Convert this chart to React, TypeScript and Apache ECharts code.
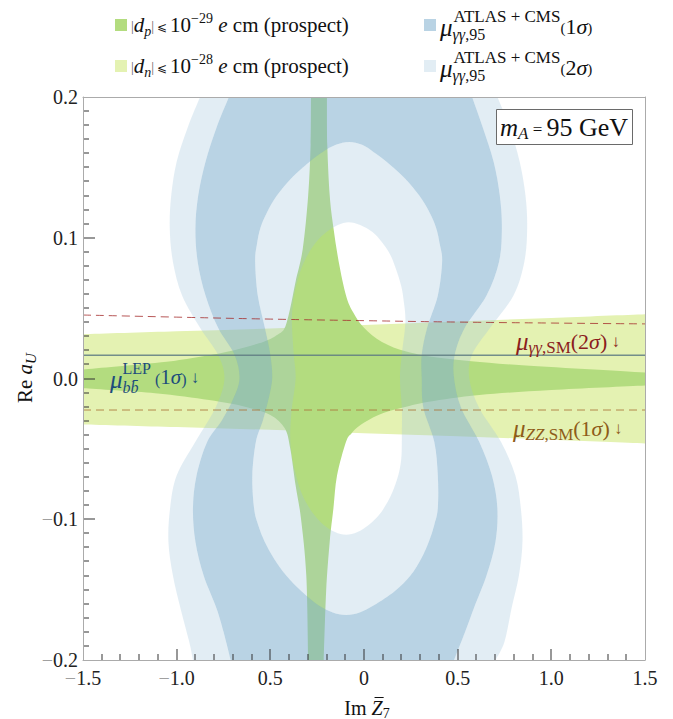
import { useEffect, useRef } from 'react';
import * as echarts from 'echarts';

// ---------- axes ----------
const X_RANGE = [-1.5, 1.5];
const Y_RANGE = [-0.2, 0.2];
const X_TICK_VALUES = [-1.5, -1.0, -0.5, 0, 0.5, 1.0, 1.5];
const X_TICK_LABELS = ['−1.5', '−1.0', '0.5', '0', '0.5', '1.0', '1.5'];
const Y_TICK_VALUES = [-0.2, -0.1, 0, 0.1, 0.2];
const Y_TICK_LABELS = ['−0.2', '−0.1', '0.0', '0.1', '0.2'];
const X_MINOR_STEP = 0.1;
const Y_MINOR_STEP = 0.01;

// ---------- mu_gammagamma (ATLAS+CMS) 2 sigma outer boundary ----------
const OUTER_2S_LEFT = [
  [-0.875, 0.2], [-0.942, 0.178], [-1.0, 0.154], [-1.029, 0.13], [-1.037, 0.107], [-1.02, 0.083],
  [-0.971, 0.059], [-0.875, 0.036], [-0.78, 0.017], [-0.745, 0.0], [-0.79, -0.02], [-0.9, -0.045],
  [-1.0, -0.069], [-1.035, -0.092], [-1.044, -0.116], [-1.02, -0.14], [-0.98, -0.163], [-0.933, -0.187], [-0.913, -0.2],
];
const OUTER_2S_RIGHT = [
  [0.702, -0.2], [0.75, -0.187], [0.788, -0.163], [0.827, -0.14], [0.846, -0.116], [0.837, -0.092],
  [0.808, -0.069], [0.731, -0.045], [0.615, -0.021], [0.562, 0.0], [0.577, 0.017], [0.673, 0.036],
  [0.798, 0.059], [0.856, 0.083], [0.871, 0.107], [0.862, 0.13], [0.831, 0.154], [0.779, 0.178], [0.712, 0.2],
];
// ---------- 1 sigma outer boundary ----------
const OUTER_1S_LEFT = [
  [-0.721, 0.2], [-0.788, 0.178], [-0.846, 0.154], [-0.885, 0.13], [-0.9, 0.107], [-0.888, 0.083],
  [-0.846, 0.059], [-0.779, 0.036], [-0.692, 0.017], [-0.665, 0.0], [-0.7, -0.015], [-0.76, -0.03],
  [-0.837, -0.045], [-0.894, -0.069], [-0.913, -0.092], [-0.9, -0.116], [-0.856, -0.14], [-0.788, -0.163],
  [-0.75, -0.18], [-0.712, -0.2],
];
const OUTER_1S_RIGHT = [
  [0.481, -0.2], [0.54, -0.18], [0.587, -0.163], [0.654, -0.14], [0.702, -0.116], [0.712, -0.092],
  [0.683, -0.069], [0.615, -0.045], [0.519, -0.021], [0.481, 0.0], [0.485, 0.017], [0.538, 0.036],
  [0.654, 0.059], [0.721, 0.083], [0.736, 0.107], [0.725, 0.13], [0.692, 0.154], [0.635, 0.178], [0.577, 0.2],
];
// ---------- 1 sigma inner boundary (hourglass) ----------
const HOLE_1S = [
  [-0.08, 0.168], [-0.15, 0.166], [-0.22, 0.161], [-0.29, 0.154], [-0.39, 0.142], [-0.465, 0.13],
  [-0.518, 0.118], [-0.553, 0.107], [-0.572, 0.095], [-0.581, 0.083], [-0.567, 0.059], [-0.529, 0.036],
  [-0.5, 0.017], [-0.49, 0.0], [-0.51, -0.015], [-0.54, -0.03], [-0.577, -0.045], [-0.596, -0.069],
  [-0.587, -0.092], [-0.565, -0.104], [-0.53, -0.116], [-0.48, -0.128], [-0.415, -0.14], [-0.335, -0.151],
  [-0.245, -0.161], [-0.17, -0.166], [-0.096, -0.168], [-0.02, -0.166], [0.055, -0.161], [0.165, -0.151],
  [0.248, -0.14], [0.305, -0.128], [0.346, -0.116], [0.375, -0.104], [0.394, -0.092], [0.394, -0.069],
  [0.375, -0.045], [0.317, -0.021], [0.308, 0.0], [0.308, 0.017], [0.337, 0.036], [0.394, 0.059],
  [0.417, 0.083], [0.405, 0.095], [0.385, 0.107], [0.35, 0.118], [0.295, 0.13], [0.22, 0.142],
  [0.12, 0.154], [0.05, 0.161], [-0.01, 0.166],
];
// ---------- 2 sigma inner boundary (hourglass) ----------
const HOLE_2S = [
  [-0.081, 0.111], [-0.14, 0.109], [-0.2, 0.104], [-0.255, 0.097], [-0.3, 0.088], [-0.335, 0.078],
  [-0.362, 0.066], [-0.378, 0.055], [-0.385, 0.04], [-0.375, 0.017], [-0.365, 0.0], [-0.385, -0.021],
  [-0.394, -0.04], [-0.385, -0.055], [-0.368, -0.066], [-0.343, -0.078], [-0.31, -0.088], [-0.265, -0.097],
  [-0.215, -0.104], [-0.155, -0.109], [-0.096, -0.111], [-0.035, -0.109], [0.025, -0.104], [0.08, -0.097],
  [0.125, -0.088], [0.16, -0.078], [0.188, -0.066], [0.2, -0.055], [0.202, -0.04], [0.202, -0.021],
  [0.192, 0.0], [0.202, 0.017], [0.221, 0.04], [0.212, 0.055], [0.198, 0.066], [0.17, 0.078],
  [0.14, 0.088], [0.095, 0.097], [0.045, 0.104], [-0.02, 0.109],
];
// ---------- |d_n| band ----------
const DN_TOP = [[-1.5, 0.0314], [-1.0, 0.0335], [-0.5, 0.0355], [0, 0.038], [0.5, 0.0405], [1.0, 0.043], [1.5, 0.0456]];
const DN_BOTTOM = [[1.5, -0.0461], [1.0, -0.0435], [0.5, -0.041], [0, -0.0389], [-0.5, -0.0365], [-1.0, -0.0345], [-1.5, -0.0326]];
// ---------- |d_p| region ----------
const DP_UPPER_LEFT = [
  [-1.5, 0.0064], [-1.115, 0.011], [-0.923, 0.0144], [-0.731, 0.019], [-0.538, 0.026], [-0.462, 0.031],
  [-0.423, 0.036], [-0.394, 0.05], [-0.365, 0.069], [-0.327, 0.092], [-0.298, 0.13], [-0.285, 0.166], [-0.283, 0.2],
];
const DP_UPPER_RIGHT = [
  [-0.198, 0.2], [-0.196, 0.166], [-0.183, 0.13], [-0.163, 0.107], [-0.135, 0.083], [-0.096, 0.059],
  [-0.058, 0.047], [0.0, 0.036], [0.096, 0.026], [0.231, 0.019], [0.423, 0.0144], [0.808, 0.0097], [1.5, 0.0042],
];
const DP_LOWER_RIGHT = [
  [1.5, -0.005], [1.0, -0.0082], [0.615, -0.0117], [0.346, -0.0165], [0.192, -0.0212], [0.077, -0.0259],
  [-0.019, -0.033], [-0.067, -0.039], [-0.096, -0.045], [-0.144, -0.069], [-0.163, -0.092], [-0.183, -0.116],
  [-0.202, -0.151], [-0.215, -0.2],
];
const DP_LOWER_LEFT = [
  [-0.298, -0.2], [-0.308, -0.14], [-0.337, -0.099], [-0.365, -0.076], [-0.394, -0.0496], [-0.423, -0.0354],
  [-0.5, -0.0259], [-0.635, -0.02], [-0.827, -0.0153], [-1.115, -0.0105], [-1.5, -0.007],
];
// ---------- lines ----------
const GG_LINE = [[-1.5, 0.0451], [-1.0, 0.0436], [-0.5, 0.0422], [0, 0.0411], [0.5, 0.0401], [1.0, 0.0394], [1.5, 0.0388]];
const ZZ_LINE = [[-1.5, -0.0224], [1.5, -0.0224]];
const LEP_LINE = [[-1.5, 0.0165], [1.5, 0.0165]];

// ---------- styling / layout ----------
const FONT = '"Liberation Serif", "Times New Roman", serif';
const GRID = { left: 83, top: 97, width: 562, height: 563 };
const DN_COLOR = '#e4f2b2';
const DP_COLOR = '#b3dc7f';
const S1_FILL = 'rgba(130,176,207,0.56)';
const S2_FILL = 'rgba(158,195,218,0.3)';
const S1_LEGEND = '#b9d3e4';
const S2_LEGEND = '#e2edf4';
const FRAME = '#ababab';
const TICK = '#333333';

let ctx: CanvasRenderingContext2D | null = null;
function measure(text: string, size: number, italic?: boolean) {
  if (!ctx) ctx = document.createElement('canvas').getContext('2d');
  if (!ctx) return text.length * size * 0.5;
  ctx.font = `${italic ? 'italic ' : ''}${size}px ${FONT}`;
  return ctx.measureText(text).width;
}

type Piece = { t: string; s: number; i?: boolean; dy?: number; dx?: number; c?: string; mark?: boolean; back?: boolean };
function run(x0: number, y: number, pieces: Piece[], color: string) {
  const els: any[] = [];
  let x = x0;
  let saved = x0;
  for (const p of pieces) {
    if (p.back) x = saved;
    x += p.dx || 0;
    els.push({
      type: 'text', z: 100, silent: true,
      style: {
        text: p.t, x, y: y + (p.dy || 0), fill: p.c || color,
        font: `${p.i ? 'italic ' : ''}${p.s}px ${FONT}`, align: 'left', verticalAlign: 'middle',
      },
    });
    x += measure(p.t, p.s, p.i);
    if (p.mark) saved = x;
  }
  return { els, end: x };
}
function runWidth(pieces: Piece[]) {
  return run(0, 0, pieces, '#000').end;
}

// ---------- path helpers ----------
const f = (v: number) => v.toFixed(2);
function chainD(pts: number[][], start: string) {
  let d = `${start}${f(pts[0][0])},${f(pts[0][1])}`;
  const n = pts.length;
  for (let i = 0; i < n - 1; i++) {
    const p0 = pts[Math.max(0, i - 1)], p1 = pts[i], p2 = pts[i + 1], p3 = pts[Math.min(n - 1, i + 2)];
    const c1 = [p1[0] + (p2[0] - p0[0]) / 6, p1[1] + (p2[1] - p0[1]) / 6];
    const c2 = [p2[0] - (p3[0] - p1[0]) / 6, p2[1] - (p3[1] - p1[1]) / 6];
    d += `C${f(c1[0])},${f(c1[1])},${f(c2[0])},${f(c2[1])},${f(p2[0])},${f(p2[1])}`;
  }
  return d;
}
function chainsD(chains: number[][][]) {
  return chains.map((c, k) => chainD(c, k === 0 ? 'M' : 'L')).join('') + 'Z';
}
function closedD(pts: number[][]) {
  const n = pts.length;
  const g = (i: number) => pts[(i + n) % n];
  let d = `M${f(pts[0][0])},${f(pts[0][1])}`;
  for (let i = 0; i < n; i++) {
    const p0 = g(i - 1), p1 = g(i), p2 = g(i + 1), p3 = g(i + 2);
    const c1 = [p1[0] + (p2[0] - p0[0]) / 6, p1[1] + (p2[1] - p0[1]) / 6];
    const c2 = [p2[0] - (p3[0] - p1[0]) / 6, p2[1] - (p3[1] - p1[1]) / 6];
    d += `C${f(c1[0])},${f(c1[1])},${f(c2[0])},${f(c2[1])},${f(p2[0])},${f(p2[1])}`;
  }
  return d + 'Z';
}
const px = (api: any, pts: number[][]) => pts.map((p) => api.coord(p));
const revChains = (chains: number[][][]) => chains.slice().reverse().map((c) => c.slice().reverse());

function regionSeries(name: string, data: number[][], build: (api: any) => string, fill: string, z = 2) {
  return {
    type: 'custom', name, coordinateSystem: 'cartesian2d', clip: true, silent: true, z,
    data, encode: { x: 0, y: 1 },
    renderItem: (params: any, api: any) =>
      params.dataIndex === 0 ? { type: 'path', shape: { pathData: build(api) }, style: { fill } } : null,
  };
}

function stepValues(min: number, max: number, step: number) {
  const out: number[] = [];
  const n = Math.round((max - min) / step);
  for (let k = 0; k <= n; k++) out.push(Math.round((min + k * step) * 1e6) / 1e6);
  return out;
}
const isMajor = (v: number, majors: number[]) => majors.some((m) => Math.abs(m - v) < 1e-6);

// tick marks as thin filled bars, placed through the axis scales (same mechanism as the regions)
function tickPath(api: any) {
  let d = '';
  const corner = api.coord([X_RANGE[0], Y_RANGE[0]]);
  const bottom = corner[1];
  const left = corner[0];
  for (const v of stepValues(X_RANGE[0], X_RANGE[1], X_MINOR_STEP)) {
    if (Math.abs(v - X_RANGE[0]) < 1e-6 || Math.abs(v - X_RANGE[1]) < 1e-6) continue;
    const x = Math.round(api.coord([v, Y_RANGE[0]])[0]);
    const len = isMajor(v, X_TICK_VALUES) ? 11 : 6;
    d += `M${f(x - 0.5)},${f(bottom)}L${f(x + 0.5)},${f(bottom)}L${f(x + 0.5)},${f(bottom - len)}L${f(x - 0.5)},${f(bottom - len)}Z`;
  }
  for (const v of stepValues(Y_RANGE[0], Y_RANGE[1], Y_MINOR_STEP)) {
    if (Math.abs(v - Y_RANGE[0]) < 1e-6 || Math.abs(v - Y_RANGE[1]) < 1e-6) continue;
    const y = Math.round(api.coord([X_RANGE[0], v])[1]);
    const len = isMajor(v, Y_TICK_VALUES) ? 12 : 6;
    d += `M${f(left)},${f(y - 0.5)}L${f(left + len)},${f(y - 0.5)}L${f(left + len)},${f(y + 0.5)}L${f(left)},${f(y + 0.5)}Z`;
  }
  return d;
}

function tickFormatter(values: number[], labels: string[]) {
  return (v: number) => {
    const i = values.findIndex((t) => Math.abs(t - v) < 1e-6);
    if (i < 0) return '';
    const s = labels[i];
    return s.startsWith('−') ? `{m|−}{n|${s.slice(1)}}` : `{n|${s}}`;
  };
}
const tickRich = {
  m: { color: '#a0a0a0', fontSize: 20, fontFamily: FONT },
  n: { color: '#222', fontSize: 20, fontFamily: FONT },
};

function buildGraphics() {
  const els: any[] = [];
  // legend
  const rows = [
    { y: 25, sub: 'p', exp: '−29', fill: DP_COLOR, sig: '1', bfill: S1_LEGEND },
    { y: 66, sub: 'n', exp: '−28', fill: DN_COLOR, sig: '2', bfill: S2_LEGEND },
  ];
  for (const r of rows) {
    els.push({ type: 'rect', z: 100, silent: true, shape: { x: 115, y: r.y - 6, width: 12, height: 12 }, style: { fill: r.fill } });
    els.push(...run(131, r.y, [
      { t: '|', s: 14, c: '#666', dy: 1 },
      { t: 'd', s: 21, i: true },
      { t: r.sub, s: 14, i: true, dy: 6 },
      { t: '|', s: 14, c: '#666', dy: 1 },
      { t: ' ⩽ ', s: 12, dy: 2 },
      { t: '10', s: 21 },
      { t: r.exp, s: 14, dy: -7 },
      { t: ' e', s: 21, i: true },
      { t: ' cm (prospect)', s: 21 },
    ], '#111').els);
    els.push({ type: 'rect', z: 100, silent: true, shape: { x: 424, y: r.y - 6, width: 12, height: 12 }, style: { fill: r.bfill } });
    els.push(...run(440, r.y, [
      { t: 'μ', s: 25, i: true, mark: true, dy: 2 },
      { t: 'γγ', s: 16, i: true, dy: 9 },
      { t: ',95', s: 16, dy: 9 },
      { t: 'ATLAS + CMS', s: 17, dy: -9, back: true, dx: 1 },
      { t: '(', s: 15, dy: 3 },
      { t: r.sig, s: 22, dy: 1 },
      { t: 'σ', s: 22, i: true, dy: 1 },
      { t: ')', s: 15, dy: 3 },
    ], '#111').els);
  }
  // m_A box
  els.push({ type: 'rect', z: 100, silent: true, shape: { x: 496.5, y: 109.5, width: 136, height: 35 }, style: { fill: '#fff', stroke: '#6a6a6a', lineWidth: 1 } });
  els.push(...run(500, 127, [
    { t: 'm', s: 25, i: true },
    { t: 'A', s: 17, i: true, dy: 6 },
    { t: ' = ', s: 17, dy: 2 },
    { t: '95 GeV', s: 26 },
  ], '#111').els);
  // curve labels
  els.push(...run(516, 341, [
    { t: 'μ', s: 25, i: true },
    { t: 'γγ', s: 17, i: true, dy: 6 },
    { t: ',SM', s: 17, dy: 6 },
    { t: '(', s: 22 },
    { t: '2', s: 22 },
    { t: 'σ', s: 22, i: true },
    { t: ')', s: 22 },
    { t: ' ↓', s: 17 },
  ], '#8b1d1d').els);
  els.push(...run(513, 428, [
    { t: 'μ', s: 25, i: true },
    { t: 'ZZ', s: 17, i: true, dy: 6 },
    { t: ',SM', s: 17, dy: 6 },
    { t: '(', s: 22 },
    { t: '1', s: 22 },
    { t: 'σ', s: 22, i: true },
    { t: ')', s: 22 },
    { t: ' ↓', s: 17 },
  ], '#8e5c18').els);
  els.push(...run(110, 377, [
    { t: 'μ', s: 25, i: true, mark: true, dy: 2 },
    { t: 'bb\u0304', s: 16, i: true, dy: 10 },
    { t: 'LEP', s: 16, dy: -9, back: true },
    { t: ' (', s: 16, dy: 2 },
    { t: '1', s: 21 },
    { t: 'σ', s: 21, i: true },
    { t: ')', s: 16, dy: 2 },
    { t: ' ↓', s: 17 },
  ], '#1c4c7c').els);
  // y axis title
  const yPieces: Piece[] = [
    { t: 'Re ', s: 21 },
    { t: 'a', s: 21, i: true },
    { t: 'U', s: 15, i: true, dy: 6 },
  ];
  const yw = runWidth(yPieces);
  els.push({ type: 'group', x: 25, y: 378, rotation: Math.PI / 2, children: run(-yw / 2, 0, yPieces, '#111').els });
  // x axis title
  const xPieces: Piece[] = [
    { t: 'Im ', s: 20 },
    { t: 'Z', s: 20, i: true },
    { t: '7', s: 14, dy: 5 },
  ];
  const xw = runWidth(xPieces);
  const x0 = 367 - xw / 2;
  els.push(...run(x0, 708, xPieces, '#111').els);
  const zx = x0 + measure('Im ', 20);
  const zw = measure('Z', 20, true);
  els.push({ type: 'line', z: 100, silent: true, shape: { x1: zx + 3, y1: 697.5, x2: zx + zw + 1, y2: 697.5 }, style: { stroke: '#111', lineWidth: 1 } });
  return els;
}

function buildOption() {
  return {
    animation: false,
    backgroundColor: '#fff',
    grid: { ...GRID, containLabel: false },
    xAxis: [
      {
        type: 'value', position: 'bottom', min: X_RANGE[0], max: X_RANGE[1], interval: 0.5, z: 10,
        splitLine: { show: false },
        axisLine: { show: true, onZero: false, lineStyle: { color: FRAME, width: 1 } },
        axisTick: { show: false },
        axisLabel: { margin: 8, formatter: tickFormatter(X_TICK_VALUES, X_TICK_LABELS), rich: tickRich, showMinLabel: true, showMaxLabel: true, hideOverlap: false },
      },
      {
        type: 'value', position: 'top', min: X_RANGE[0], max: X_RANGE[1], z: 10,
        splitLine: { show: false },
        axisLine: { show: true, onZero: false, lineStyle: { color: FRAME, width: 1 } },
        axisTick: { show: false }, axisLabel: { show: false },
      },
    ],
    yAxis: [
      {
        type: 'value', position: 'left', min: Y_RANGE[0], max: Y_RANGE[1], interval: 0.1, z: 10,
        splitLine: { show: false },
        axisLine: { show: true, onZero: false, lineStyle: { color: FRAME, width: 1 } },
        axisTick: { show: false },
        axisLabel: { margin: 5, formatter: tickFormatter(Y_TICK_VALUES, Y_TICK_LABELS), rich: tickRich, showMinLabel: true, showMaxLabel: true },
      },
      {
        type: 'value', position: 'right', min: Y_RANGE[0], max: Y_RANGE[1], z: 10,
        splitLine: { show: false },
        axisLine: { show: true, onZero: false, lineStyle: { color: FRAME, width: 1 } },
        axisTick: { show: false }, axisLabel: { show: false },
      },
    ],
    series: [
      regionSeries('dn', DN_TOP, (api) => chainsD([px(api, DN_TOP), px(api, DN_BOTTOM)]), DN_COLOR),
      regionSeries('dp', DP_UPPER_LEFT, (api) => chainsD([
        px(api, DP_UPPER_LEFT), px(api, DP_UPPER_RIGHT), px(api, DP_LOWER_RIGHT), px(api, DP_LOWER_LEFT),
      ]), DP_COLOR),
      regionSeries('mu2s', OUTER_2S_LEFT, (api) => {
        const outer2 = [px(api, OUTER_2S_LEFT), px(api, OUTER_2S_RIGHT)];
        const outer1 = [px(api, OUTER_1S_LEFT), px(api, OUTER_1S_RIGHT)];
        return chainsD(outer2) + chainsD(revChains(outer1)) + closedD(px(api, HOLE_1S)) + closedD(px(api, HOLE_2S).slice().reverse());
      }, S2_FILL),
      regionSeries('mu1s', OUTER_1S_LEFT, (api) => {
        const outer1 = [px(api, OUTER_1S_LEFT), px(api, OUTER_1S_RIGHT)];
        return chainsD(outer1) + closedD(px(api, HOLE_1S).slice().reverse());
      }, S1_FILL),
      {
        type: 'line', name: 'lep', data: LEP_LINE, symbol: 'none', silent: true, z: 3,
        lineStyle: { color: 'rgba(95,125,130,0.85)', width: 1.5 },
      },
      {
        type: 'line', name: 'gg', data: GG_LINE, symbol: 'none', smooth: true, silent: true, z: 3,
        lineStyle: { color: 'rgba(165,45,45,0.8)', width: 1, type: [8, 5] },
      },
      {
        type: 'line', name: 'zz', data: ZZ_LINE, symbol: 'none', silent: true, z: 3,
        lineStyle: { color: 'rgba(170,120,60,0.85)', width: 1, type: [8, 5] },
      },
      regionSeries('ticks', DN_TOP, tickPath, TICK, 5),
    ],
    graphic: { elements: buildGraphics() },
  };
}

export default function App() {
  const ref = useRef<HTMLDivElement>(null);
  useEffect(() => {
    if (!ref.current) return;
    const chart = echarts.init(ref.current, null, { renderer: 'svg' });
    chart.setOption(buildOption() as any);
    return () => chart.dispose();
  }, []);
  return <div ref={ref} style={{ position: 'fixed', left: 0, top: 0, width: 673, height: 719, background: '#fff' }} />;
}
